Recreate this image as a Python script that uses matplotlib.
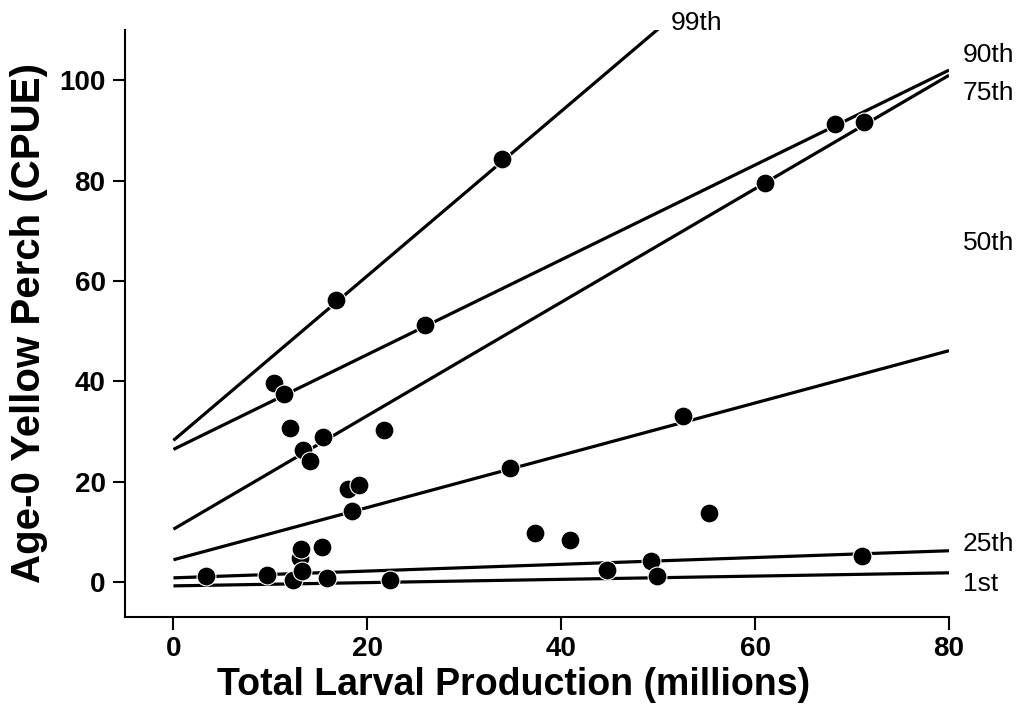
import numpy as np
import matplotlib.pyplot as plt

plt.rcParams['font.family'] = ['Liberation Sans', 'DejaVu Sans']

# observed points (larval production in millions, age-0 CPUE)
larvae = [3.4, 9.6, 10.4, 11.4, 12.0, 12.3, 13.1, 13.2, 13.3, 13.4, 14.1, 15.3,
          15.4, 15.8, 16.8, 18.0, 18.4, 19.1, 21.7, 22.3, 25.9, 33.9, 34.7, 37.3,
          40.9, 44.7, 49.3, 49.9, 52.6, 55.2, 61.0, 68.2, 71.2, 71.0]
cpue = [1.1, 1.4, 39.7, 37.4, 30.7, 0.4, 4.8, 6.6, 2.2, 26.3, 24.1, 6.9,
        28.8, 0.7, 56.1, 18.5, 14.2, 19.3, 30.2, 0.3, 51.1, 84.2, 22.7, 9.7,
        8.4, 2.4, 4.2, 1.1, 33.0, 13.7, 79.6, 91.3, 91.6, 5.2]

# quantile regression fits
quant_labels = ['99th', '90th', '75th', '50th', '25th', '1st']
intercepts = [28.2, 26.4, 10.5, 4.4, 0.8, -0.8]
slopes = [1.64, 0.945, 1.131, 0.521, 0.0675, 0.0325]
x_end = [50.2, 80, 80, 80, 80, 80]
label_x = [51.3, 81.4, 81.4, 81.4, 81.4, 81.4]
label_y = [111.3, 105.0, 97.4, 67.6, 7.5, -0.4]

fig = plt.figure(figsize=(10.21, 7.28), dpi=100)
ax = fig.add_axes([0.1224, 0.1525, 0.8071, 0.8063])

for b0, b1, xe, lab, lx, ly in zip(intercepts, slopes, x_end, quant_labels, label_x, label_y):
    xx = np.array([0, xe])
    ax.plot(xx, b0 + b1 * xx, color='black', lw=2.3, solid_capstyle='butt', zorder=2)
    ax.text(lx, ly, lab, fontsize=19, ha='left', va='center', clip_on=False)

ax.scatter(larvae, cpue, s=185, color='black', edgecolor='white', linewidth=0.8, zorder=3)

ax.set_xlim(-5, 80)
ax.set_ylim(-7, 110)
ax.set_xticks([0, 20, 40, 60, 80])
ax.set_yticks([0, 20, 40, 60, 80, 100])
ax.spines['top'].set_visible(False)
ax.spines['right'].set_visible(False)
ax.spines['left'].set_linewidth(1.5)
ax.spines['bottom'].set_linewidth(1.5)
ax.tick_params(length=9, width=1.5, labelsize=20, pad=5)
for t in ax.get_xticklabels() + ax.get_yticklabels():
    t.set_fontweight('bold')

ax.set_xlabel('Total Larval Production (millions)', fontsize=27, fontweight='bold', labelpad=3)
ax.set_ylabel('Age-0 Yellow Perch (CPUE)', fontsize=29, fontweight='bold', labelpad=8)
ax.xaxis.set_label_coords(0.472, -0.085)

fig.savefig('out.png', dpi=100)
